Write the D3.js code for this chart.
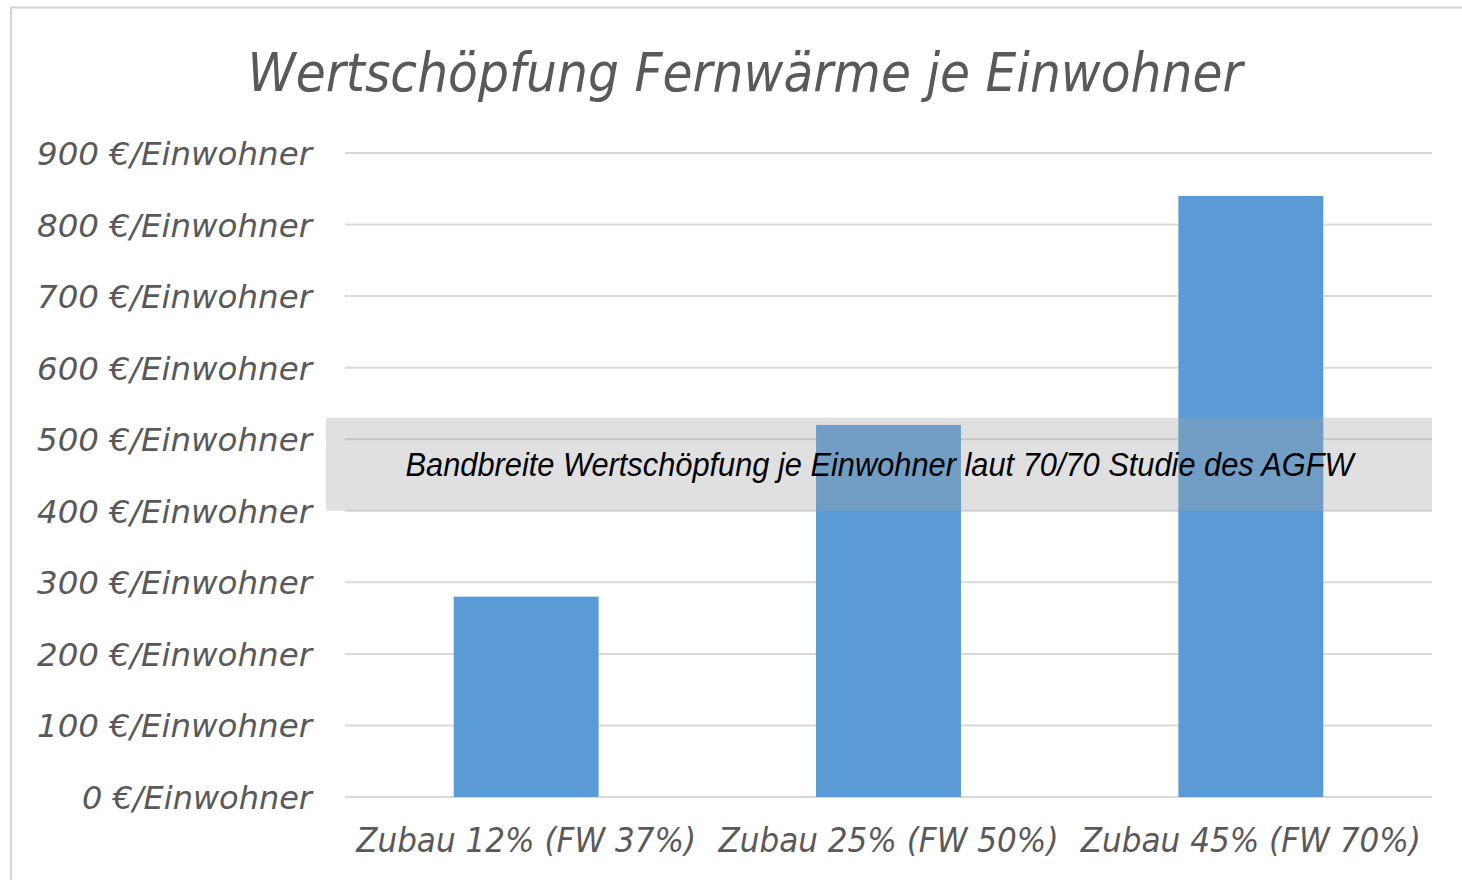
<!DOCTYPE html>
<html>
<head>
<meta charset="utf-8">
<script src="https://d3js.org/d3.v7.min.js"></script>
<style>
  html, body { margin: 0; padding: 0; background: #fff; }
  svg { display: block; }
</style>
</head>
<body>
<div id="chart"></div>
<script>
// chart data
const categories = ["Zubau 12% (FW 37%)", "Zubau 25% (FW 50%)", "Zubau 45% (FW 70%)"];
const values = [280, 520, 840];
const yTicks = [0, 100, 200, 300, 400, 500, 600, 700, 800, 900];
const bandRange = [400, 530];
const title = "Wertschöpfung Fernwärme je Einwohner";
const bandLabel = "Bandbreite Wertschöpfung je Einwohner laut 70/70 Studie des AGFW";

const W = 1462, H = 880;
const plot = { left: 345, right: 1432, top: 153, bottom: 797 };

const svg = d3.select("#chart")
  .append("svg")
  .attr("width", W)
  .attr("height", H);

// outer frame (only top and left visible in the picture)
svg.append("path")
  .attr("d", `M11,${H + 5} L11,7.5 L${W + 5},7.5`)
  .attr("fill", "none")
  .attr("stroke", "#d4d4d4")
  .attr("stroke-width", 2);

// scales
const x = d3.scaleBand()
  .domain(categories)
  .range([plot.left, plot.right])
  .paddingInner(0.6)
  .paddingOuter(0.3);

const y = d3.scaleLinear()
  .domain([0, 900])
  .range([plot.bottom, plot.top]);

// gridlines
svg.append("g")
  .selectAll("line")
  .data(yTicks)
  .join("line")
  .attr("x1", plot.left)
  .attr("x2", plot.right)
  .attr("y1", d => y(d))
  .attr("y2", d => y(d))
  .attr("stroke", "#d9d9d9")
  .attr("stroke-width", 2);

// y axis labels
const yAxis = svg.append("g")
  .attr("transform", `translate(${plot.left - 33},0)`)
  .call(d3.axisLeft(y).tickValues(yTicks).tickSize(0).tickPadding(0)
    .tickFormat(d => `${d} €/Einwohner`));
yAxis.select(".domain").remove();
yAxis.selectAll("text")
  .attr("dy", "0.36em")
  .style("font-family", "'DejaVu Sans', sans-serif")
  .style("font-style", "italic")
  .style("font-size", "32px")
  .attr("fill", "#595959")
  .attr("textLength", d => d === 0 ? 230 : 275)
  .attr("lengthAdjust", "spacingAndGlyphs");

// x axis labels
const xAxis = svg.append("g")
  .attr("transform", `translate(0,${plot.bottom})`)
  .call(d3.axisBottom(x).tickSize(0).tickPadding(0));
xAxis.select(".domain").remove();
xAxis.selectAll("text")
  .attr("y", 55)
  .attr("dy", 0)
  .style("font-family", "'DejaVu Sans', sans-serif")
  .style("font-style", "italic")
  .style("font-size", "34px")
  .attr("fill", "#595959")
  .attr("textLength", 340)
  .attr("lengthAdjust", "spacingAndGlyphs");

// bars
svg.append("g")
  .selectAll("rect")
  .data(values)
  .join("rect")
  .attr("x", (d, i) => x(categories[i]))
  .attr("y", d => y(d))
  .attr("width", x.bandwidth())
  .attr("height", d => y(0) - y(d))
  .attr("fill", "#5b9bd5");

// band of the 70/70 study
svg.append("rect")
  .attr("x", plot.left - 19)
  .attr("y", y(bandRange[1]))
  .attr("width", plot.right - plot.left + 19)
  .attr("height", y(bandRange[0]) - y(bandRange[1]))
  .attr("fill", "#a2a2a2")
  .attr("fill-opacity", 0.33);

svg.append("text")
  .attr("x", (plot.left - 19 + plot.right) / 2 + 0.5)
  .attr("y", (y(bandRange[0]) + y(bandRange[1])) / 2 + 12)
  .attr("text-anchor", "middle")
  .style("font-family", "'Liberation Sans Narrow', 'Liberation Sans', sans-serif")
  .style("font-style", "italic")
  .style("font-size", "34px")
  .attr("fill", "#000")
  .attr("textLength", 948)
  .attr("lengthAdjust", "spacingAndGlyphs")
  .text(bandLabel);

// title
svg.append("text")
  .attr("x", 745)
  .attr("y", 91)
  .attr("text-anchor", "middle")
  .style("font-family", "'DejaVu Sans', sans-serif")
  .style("font-style", "italic")
  .style("font-size", "54px")
  .attr("fill", "#595959")
  .attr("textLength", 995)
  .attr("lengthAdjust", "spacingAndGlyphs")
  .text(title);
</script>
</body>
</html>
